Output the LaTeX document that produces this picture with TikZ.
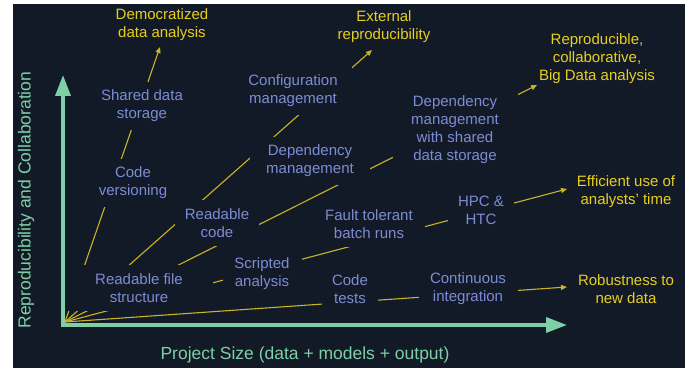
\documentclass[tikz,border=0pt]{standalone}
\usepackage{fontspec}
\setmainfont{Liberation Sans}
\usetikzlibrary{arrows.meta,positioning}

\definecolor{bgdark}{HTML}{131A27}
\definecolor{stepblue}{HTML}{7C8CD4}
\definecolor{goalyellow}{HTML}{E6CF1F}
\definecolor{linkyellow}{HTML}{C9B425}
\definecolor{axisgreen}{HTML}{7ECFA6}

\begin{document}
\begin{tikzpicture}[x=1pt,y=-1pt,
		practice/.style={fill=bgdark, text=stepblue, align=center, font=\fontsize{15}{18}\selectfont, inner xsep=10pt, inner ysep=8pt},
		goal/.style={text=goalyellow, align=center, font=\fontsize{15}{18}\selectfont},
		route/.style={draw=linkyellow, line width=1.1pt, -{Triangle[length=6pt,width=5pt]}},
		axis/.style={draw=axisgreen, line width=3.5pt, line join=miter, {Triangle[length=21pt,width=15pt]}-{Triangle[length=21pt,width=15pt]}},
		axislabel/.style={text=axisgreen, font=\fontsize{17.5}{20}\selectfont}]

	\useasboundingbox[fill=white] (0,0) rectangle (691,371);
	\fill[bgdark] (13,4) rectangle (685,368);

	\coordinate (origin) at (65,322);
	\coordinate (corner) at (63,325);
	\coordinate (ytip) at (63,75);
	\coordinate (xtip) at (567,325);

	% goals
	\node[goal] (democ) at (162,25) {Democratized\\data analysis};
	\node[goal] (external) at (384,27) {External\\reproducibility};
	\node[goal] (bigdata) at (597,59) {Reproducible,\\collaborative,\\Big Data analysis};
	\node[goal] (efficient) at (626,192) {Efficient use of\\analysts' time};
	\node[goal] (robust) at (626,289) {Robustness to\\new data};

	% routes go under the practice boxes, which hide them
	\draw[route] (origin) -- ([shift={(-2,22)}]democ.center);
	\draw[route] (origin) -- ([shift={(-12,23)}]external.center);
	\draw[route] (origin) -- ([shift={(-60,26)}]bigdata.center);
	\draw[route] (origin) -- ([shift={(-59,-3)}]efficient.center);
	\draw[route] (origin) -- ([shift={(-59,-2)}]robust.center);

	% practices
	\node[practice, minimum width=148pt] (filestruct) at (139,288) {Readable file\\structure};
	\node[practice] (codever) at (133,183) {Code\\versioning};
	\node[practice] (shared) at (142,106) {Shared data\\storage};
	\node[practice, minimum width=81pt] (readcode) at (217,223) {Readable\\code};
	\node[practice, minimum width=120pt] (depman) at (310,161) {Dependency\\management};
	\node[practice, minimum width=118pt] (config) at (293,91) {Configuration\\management};
	\node[practice, minimum width=125pt] (depshared) at (455,130) {Dependency\\management\\with shared\\data storage};
	\node[practice, minimum width=111pt] (faulttol) at (369,224) {Fault tolerant\\batch runs};
	\node[practice, minimum width=64pt] (hpc) at (481,210) {HPC \&\\HTC};
	\node[practice, minimum width=79pt] (scripted) at (262,274) {Scripted\\analysis};
	\node[practice, minimum width=54pt] (tests) at (350,289) {Code\\tests};
	\node[practice, minimum width=99pt] (ci) at (468,289) {Continuous\\integration};

	% axes
	\draw[axis] (ytip) -- (corner) -- (xtip);
	\node[axislabel, rotate=90] (ylabel) at (26,200) {Reproducibility and Collaboration};
	\node[axislabel] (xlabel) at (305,355) {Project Size (data + models + output)};
\end{tikzpicture}
\end{document}
